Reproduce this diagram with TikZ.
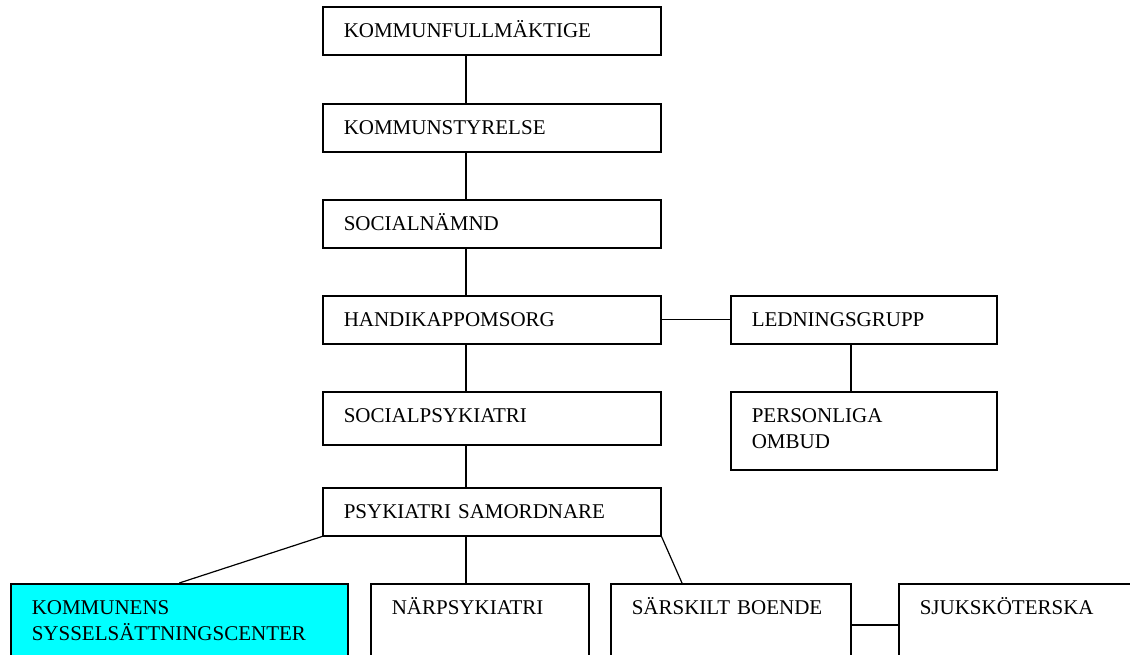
\documentclass[tikz,border=0pt]{standalone}
\usepackage{fontspec}
\setmainfont{Liberation Serif}
\usetikzlibrary{positioning}
\definecolor{aqua}{RGB}{0,255,255}
\tikzset{
    box/.style args={#1 #2}{
        draw, line width=1.5pt, fill=white, anchor=north west,
        inner xsep=21pt, inner ysep=0pt, align=left,
        font=\fontsize{21}{26}\selectfont,
        text width=#1-42pt, text height=31pt, text depth=#2-31pt
    },
    box/.default={338pt 48pt},
    link/.style={line width=1.2pt}
}
\begin{document}
\begin{tikzpicture}[x=1pt, y=-1pt]
    \useasboundingbox (0,0) rectangle (1130,654);
    \clip (0,0) rectangle (1130,654);
    % main column
    \node[box] (kf) at (322,6)   {KOMMUNFULLMÄKTIGE};
    \node[box] (ks) at (322,103) {KOMMUNSTYRELSE};
    \node[box] (sn) at (322,199) {SOCIALNÄMND};
    \node[box] (hk) at (322,295) {HANDIKAPPOMSORG};
    \node[box={338pt 53pt}] (sp) at (322,391) {SOCIALPSYKIATRI};
    \node[box] (ps) at (322,487) {PSYKIATRI SAMORDNARE};
    % right branch
    \node[box={266pt 48pt}] (lg) at (730,295) {LEDNINGSGRUPP};
    \node[box={266pt 78pt}] (po) at (730,391) {PERSONLIGA\\OMBUD};
    % bottom row
    \node[box={337pt 120pt}, fill=aqua] (kc) at (10,583) {KOMMUNENS\\SYSSELSÄTTNINGSCENTER};
    \node[box={218pt 120pt}] (np) at (370,583) {NÄRPSYKIATRI};
    \node[box={240pt 120pt}] (sb) at (610,583) {SÄRSKILT BOENDE};
    \node[box={250pt 120pt}] (sj) at (898,583) {SJUKSKÖTERSKA};
    % connectors
    \draw[link] ([xshift=144pt]kf.south west) -- ([xshift=144pt]ks.north west);
    \draw[link] ([xshift=144pt]ks.south west) -- ([xshift=144pt]sn.north west);
    \draw[link] ([xshift=144pt]sn.south west) -- ([xshift=144pt]hk.north west);
    \draw[link] ([xshift=144pt]hk.south west) -- ([xshift=144pt]sp.north west);
    \draw[link] ([xshift=144pt]sp.south west) -- ([xshift=144pt]ps.north west);
    \draw[link] (hk.east) -- (lg.west);
    \draw[link] ([xshift=121pt]lg.south west) -- ([xshift=121pt]po.north west);
    \draw[link] (ps.south west) -- (kc.north);
    \draw[link] ([xshift=144pt]ps.south west) -- ([xshift=96pt]np.north west);
    \draw[link] (ps.south east) -- ([xshift=72pt]sb.north west);
    \draw[link] ([yshift=-42pt]sb.north east) -- ([yshift=-42pt]sj.north west);
\end{tikzpicture}
\end{document}
